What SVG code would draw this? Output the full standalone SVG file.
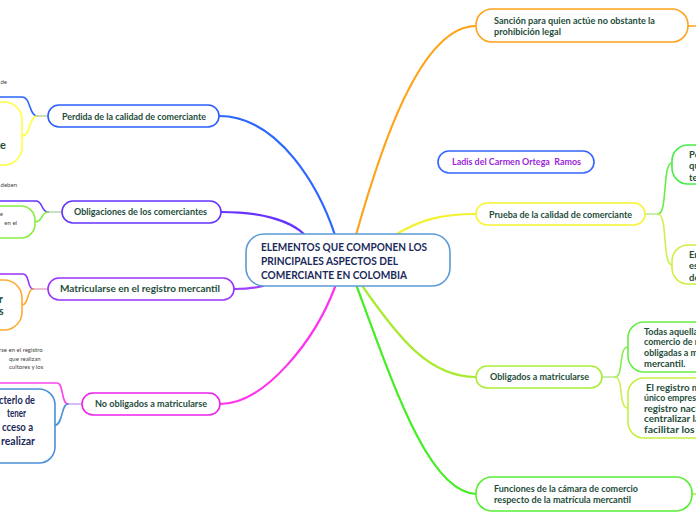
<svg xmlns="http://www.w3.org/2000/svg" width="696" height="520" viewBox="0 0 696 520">
<style>
.n{fill:#fff;stroke-width:1.6}
.t{font-family:Lato,"Open Sans","Liberation Sans",sans-serif;font-weight:bold;font-size:9.5px;fill:#1e4d3a}
.c{font-family:Lato,"Open Sans","Liberation Sans",sans-serif;font-weight:bold;font-size:10.5px;fill:#1a2a5a}
.s{font-family:Lato,"Open Sans","Liberation Sans",sans-serif;font-size:6px;fill:#444}
.b{font-family:Lato,"Open Sans","Liberation Sans",sans-serif;font-weight:bold;font-size:12px;fill:#1a2a5a}
.l{fill:none;stroke-width:1.6;stroke-linecap:round}
.m{fill:none;stroke-width:2.2;stroke-linecap:round}
</style>
<rect width="696" height="520" fill="#fff"/>
<g id="connectors">
<path class="m" stroke="#2a66ff" d="M219,116 C280,116 320,190 335,235"/>
<path class="m" stroke="#6633ff" d="M221,212 C260,212 290,220 305,235"/>
<path class="m" stroke="#a040ff" d="M234,289 C245,289 255,288 263,286"/>
<path class="m" stroke="#ff33ee" d="M335,287 C315,340 265,404 220,404"/>
<path class="m" stroke="#ffa31a" d="M356,235 C380,150 420,26 476,26"/>
<path class="m" stroke="#f2f230" d="M395,235 C420,220 440,214 476,214"/>
<path class="m" stroke="#aaea30" d="M363,287 C400,340 430,377 476,377"/>
<path class="m" stroke="#44ee22" d="M357,287 C395,390 430,494 477,494"/>
<path class="l" stroke="#ffa31a" d="M688,26 L696,26"/>
<path class="l" stroke="#aaee33" d="M692,494 L696,494"/>
<path class="l" stroke="#b8e890" d="M645,214 L658,214"/>
<path class="l" stroke="#66ee44" d="M658,214 C668,214 662,163 672,163"/>
<path class="l" stroke="#ccf055" d="M658,214 C668,214 662,265 672,265"/>
<path class="l" stroke="#b8e890" d="M602,377 L615,377"/>
<path class="l" stroke="#88ee55" d="M615,377 C624,377 618,347 628,347"/>
<path class="l" stroke="#ccf055" d="M615,377 C624,377 618,408 628,408"/>
<path class="l" stroke="#c0d4a8" d="M37,116 L48,116"/>
<path class="l" stroke="#2a66ff" d="M0,97 L22,97 C31,97 29,116 37,116"/>
<path class="l" stroke="#ffff44" d="M37,116 C29,116 31,136 22,136"/>
<path class="l" stroke="#b8d8a8" d="M48,212 L62,212"/>
<path class="l" stroke="#6633ff" d="M0,201 L36,201 C43,201 41,212 48,212"/>
<path class="l" stroke="#88ee44" d="M48,212 C41,212 43,222 35,222"/>
<path class="l" stroke="#e8a8c8" d="M33,289 L48,289"/>
<path class="l" stroke="#9933ff" d="M0,274 L23,274 C30,274 27,289 33,289"/>
<path class="l" stroke="#ffaa33" d="M33,289 C27,289 29,305 22,305"/>
<path class="l" stroke="#c8a8f0" d="M68,404 L82,404"/>
<path class="l" stroke="#ff44ee" d="M0,383 L57,383 C64,383 61,404 68,404"/>
<path class="l" stroke="#4a90d9" d="M68,404 C61,404 63,425 55,425"/>
</g>
<g id="central">
<rect class="n" x="246" y="234" width="204" height="52" rx="18" stroke="#5b9bd5"/>
<text class="c" x="261" y="251" textLength="166" lengthAdjust="spacingAndGlyphs">ELEMENTOS QUE COMPONEN LOS</text>
<text class="c" x="261" y="265" textLength="137" lengthAdjust="spacingAndGlyphs">PRINCIPALES ASPECTOS DEL</text>
<text class="c" x="261" y="278.5" textLength="146" lengthAdjust="spacingAndGlyphs">COMERCIANTE EN COLOMBIA</text>
</g>
<g id="perdida">
<rect class="n" x="48" y="105" width="171" height="22" rx="11" stroke="#2a5fff"/>
<text class="t" x="62" y="119.5" textLength="144" lengthAdjust="spacingAndGlyphs">Perdida de la calidad de comerciante</text>
</g>
<g id="obligaciones">
<rect class="n" x="62" y="201" width="159" height="22" rx="11" stroke="#6633ff"/>
<text class="t" x="74" y="215.3" textLength="133" lengthAdjust="spacingAndGlyphs">Obligaciones de los comerciantes</text>
</g>
<g id="matricularse">
<rect class="n" x="48" y="278" width="186" height="22" rx="11" stroke="#9933ff"/>
<text class="t" x="60" y="292.3" textLength="160" lengthAdjust="spacingAndGlyphs">Matricularse en el registro mercantil</text>
</g>
<g id="no-obligados">
<rect class="n" x="82" y="393" width="138" height="22" rx="11" stroke="#ee22ee"/>
<text class="t" x="95" y="407.3" textLength="112" lengthAdjust="spacingAndGlyphs">No obligados a matricularse</text>
</g>
<g id="sancion">
<rect class="n" x="476" y="9" width="212" height="33" rx="16" stroke="#ffa31a"/>
<text class="t" x="494" y="23.5" textLength="161" lengthAdjust="spacingAndGlyphs">Sanción para quien actúe no obstante la</text>
<text class="t" x="494" y="35" textLength="67" lengthAdjust="spacingAndGlyphs">prohibición legal</text>
</g>
<g id="ladis">
<rect class="n" x="438" y="151" width="156" height="22" rx="11" stroke="#3366ff"/>
<text class="t" x="452" y="165.3" textLength="129" lengthAdjust="spacingAndGlyphs" style="fill:#9a1fd9;white-space:pre">Ladis del Carmen Ortega  Ramos</text>
</g>
<g id="prueba">
<rect class="n" x="476" y="203" width="169" height="22" rx="11" stroke="#f5f532"/>
<text class="t" x="489" y="217.5" textLength="143" lengthAdjust="spacingAndGlyphs">Prueba de la calidad de comerciante</text>
</g>
<g id="prueba-sub1">
<rect class="n" x="672" y="145" width="100" height="39" rx="16" stroke="#44ee44"/>
<text class="t" x="689" y="157.5">Po</text>
<text class="t" x="689" y="169">qu</text>
<text class="t" x="689" y="180.5">te</text>
</g>
<g id="prueba-sub2">
<rect class="n" x="672" y="245" width="100" height="39" rx="16" stroke="#ccf044"/>
<text class="t" x="689" y="257.5">En</text>
<text class="t" x="689" y="269">es</text>
<text class="t" x="689" y="280.5">de</text>
</g>
<g id="obligados">
<rect class="n" x="476" y="366" width="126" height="22" rx="11" stroke="#aaee33"/>
<text class="t" x="490" y="380.3" textLength="99" lengthAdjust="spacingAndGlyphs">Obligados a matricularse</text>
</g>
<g id="obligados-sub1">
<rect class="n" x="628" y="322" width="120" height="50" rx="16" stroke="#66ee44"/>
<text class="t" x="644" y="334.5" textLength="54" lengthAdjust="spacingAndGlyphs">Todas aquella</text>
<text class="t" x="644" y="345.3" textLength="54" lengthAdjust="spacingAndGlyphs">comercio de r</text>
<text class="t" x="644" y="356" textLength="54" lengthAdjust="spacingAndGlyphs">obligadas a m</text>
<text class="t" x="644" y="366.8" textLength="41.5" lengthAdjust="spacingAndGlyphs">mercantil.</text>
</g>
<g id="obligados-sub2">
<rect class="n" x="628" y="378" width="120" height="60" rx="16" stroke="#c5f040"/>
<text class="t" x="646" y="390.5" textLength="54" lengthAdjust="spacingAndGlyphs">El registro m</text>
<text class="t" x="644" y="401" textLength="52" lengthAdjust="spacingAndGlyphs">único empres</text>
<text class="t" x="644" y="411.5" textLength="54" lengthAdjust="spacingAndGlyphs">registro naci</text>
<text class="t" x="644" y="422" textLength="56" lengthAdjust="spacingAndGlyphs">centralizar la</text>
<text class="t" x="644" y="432.5" textLength="57" lengthAdjust="spacingAndGlyphs">facilitar los t</text>
</g>
<g id="funciones">
<rect class="n" x="476" y="477" width="216" height="34" rx="16" stroke="#55ee33"/>
<text class="t" x="494" y="491.8" textLength="144" lengthAdjust="spacingAndGlyphs">Funciones de la cámara de comercio</text>
<text class="t" x="494" y="503.3" textLength="137" lengthAdjust="spacingAndGlyphs">respecto de la matrícula mercantil</text>
</g>
<g id="perdida-sub1">
<text class="s" x="7" y="84" text-anchor="end">de</text>
</g>
<g id="perdida-sub2">
<rect class="n" x="-100" y="102" width="122" height="63" rx="18" stroke="#ffff44"/>
<text class="t" x="-4" y="149" style="font-size:11px">te</text>
</g>
<g id="obligaciones-sub1">
<text class="s" x="17" y="187" text-anchor="end">deben</text>
</g>
<g id="obligaciones-sub2">
<rect class="n" x="-100" y="206" width="135" height="32" rx="14" stroke="#88ee44"/>
<text class="s" x="3" y="215.5" text-anchor="end">e</text>
<text class="s" x="17" y="224.5" text-anchor="end">en el</text>
</g>
<g id="matricularse-sub1">
<rect class="n" x="-100" y="280" width="122" height="50" rx="18" stroke="#ffaa33"/>
<text class="t" x="-1" y="303" style="font-size:10.5px">r</text>
<text class="t" x="-1" y="315" style="font-size:10.5px">s</text>
</g>
<g id="no-obligados-sub1">
<text class="s" x="-1" y="352">rse en el registro</text>
<text class="s" x="9" y="360.5">que realizan</text>
<text class="s" x="9" y="369">cultores y los</text>
</g>
<g id="no-obligados-sub2">
<rect class="n" x="-100" y="389" width="155" height="74" rx="16" stroke="#4a90d9"/>
<text class="b" x="-1" y="403.5" textLength="36" lengthAdjust="spacingAndGlyphs">cterlo de</text>
<text class="b" x="7" y="417" textLength="19" lengthAdjust="spacingAndGlyphs">tener</text>
<text class="b" x="2" y="430.5" textLength="31" lengthAdjust="spacingAndGlyphs">cceso a</text>
<text class="b" x="1" y="444.5" textLength="34" lengthAdjust="spacingAndGlyphs">realizar</text>
</g>
</svg>
